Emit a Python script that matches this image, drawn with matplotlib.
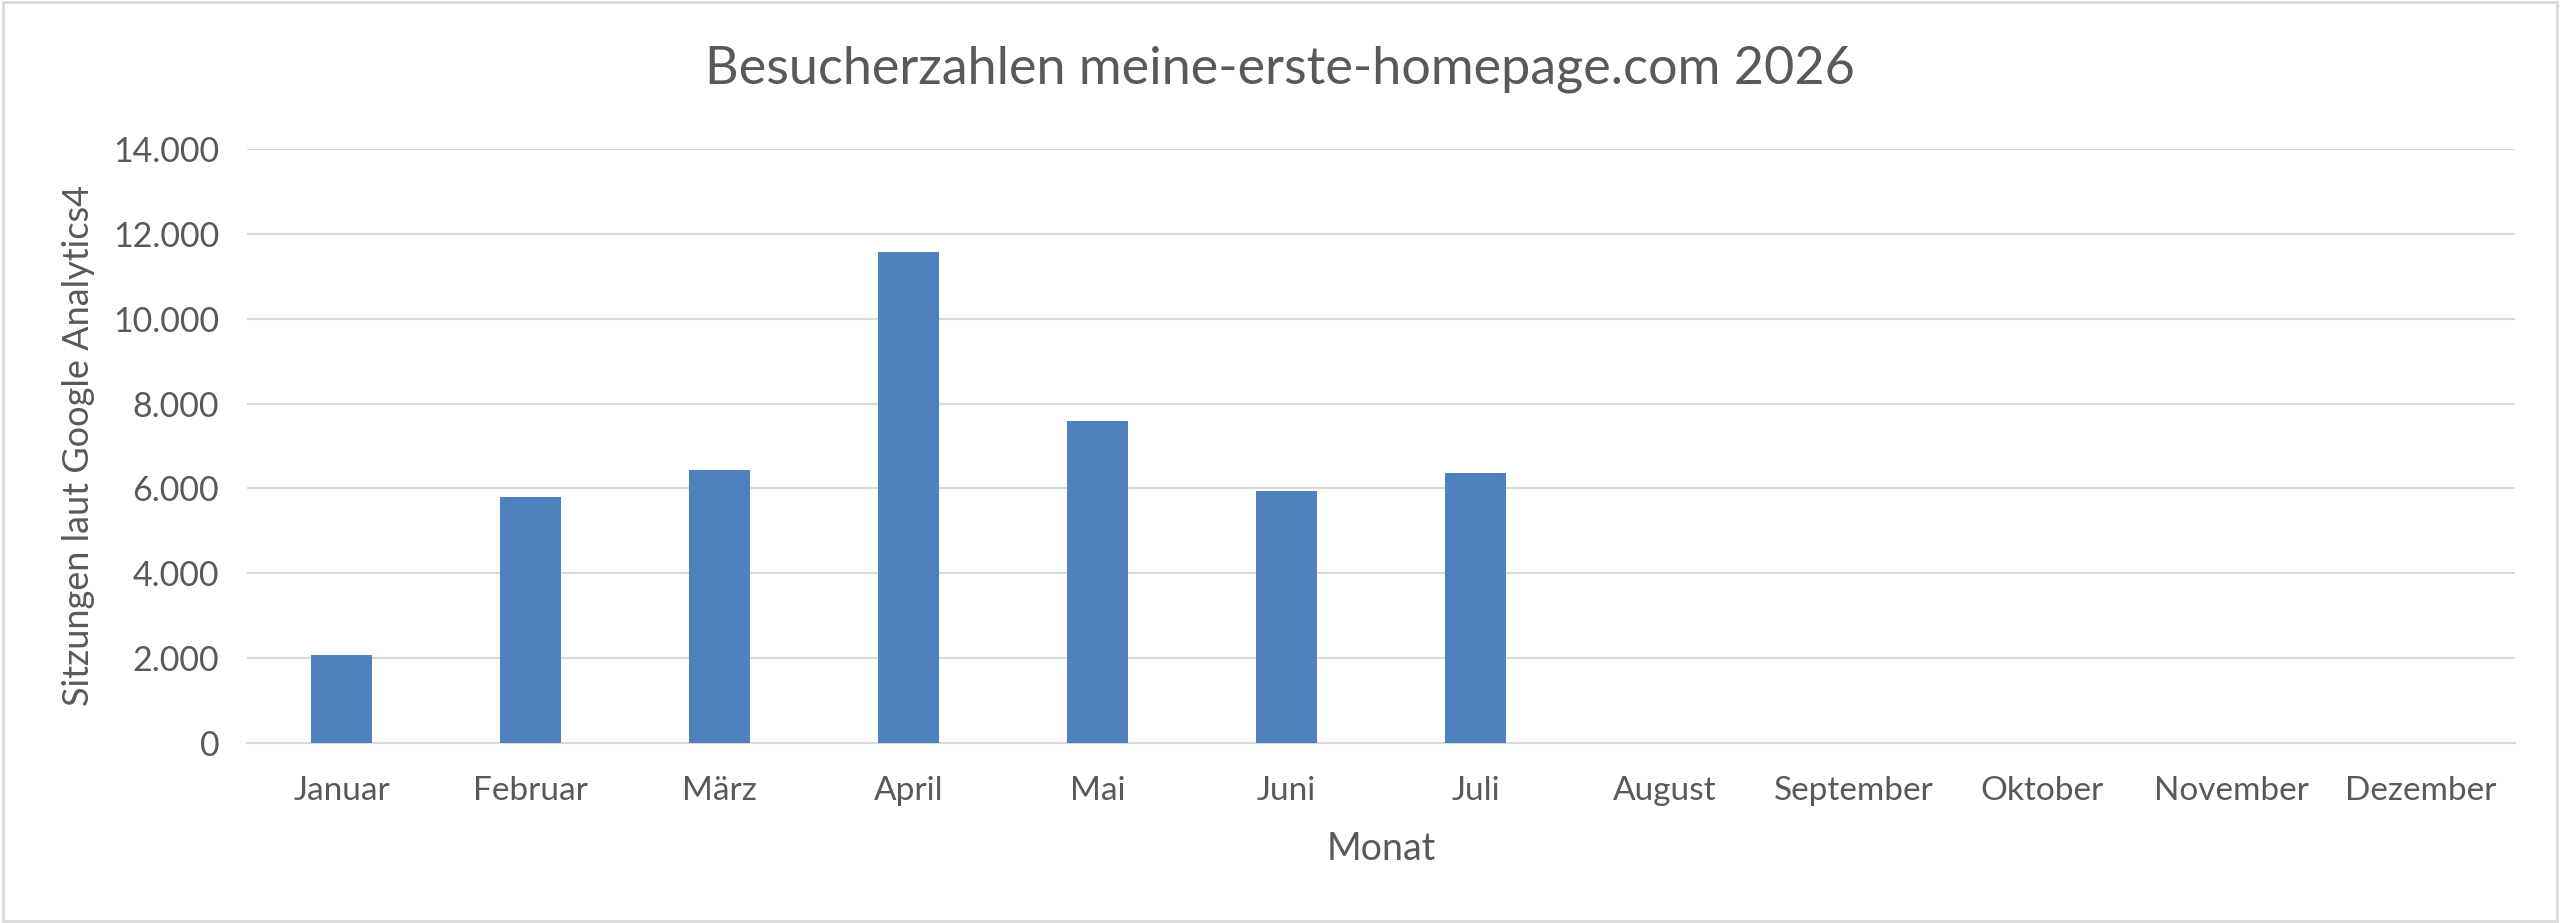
import matplotlib
matplotlib.use("Agg")
import matplotlib.pyplot as plt
from matplotlib.ticker import FuncFormatter
from matplotlib.patches import Rectangle

monate = ["Januar", "Februar", "März", "April", "Mai", "Juni", "Juli",
          "August", "September", "Oktober", "November", "Dezember"]
sitzungen = [2080, 5800, 6430, 11580, 7600, 5940, 6360, 0, 0, 0, 0, 0]
y_ticks = [0, 2000, 4000, 6000, 8000, 10000, 12000, 14000]

text_col = "#595959"
plt.rcParams["font.family"] = ["Lato", "DejaVu Sans"]

fig = plt.figure(figsize=(25.6, 9.23), dpi=100)
# Rahmen um das Diagramm
fig.patches.append(Rectangle((0.001, 0.002), 0.998, 0.996, transform=fig.transFigure,
                             fill=False, edgecolor="#D9D9D9", linewidth=2))

ax = fig.add_axes([247 / 2560, 1 - 743 / 923, (2515 - 247) / 2560, (743 - 149) / 923])

x = range(len(monate))
ax.bar(x, sitzungen, width=0.32, color="#4F81BD", zorder=3)

ax.set_xlim(-0.5, len(monate) - 0.5)
ax.set_ylim(0, 14000)
ax.set_yticks(y_ticks)
ax.yaxis.set_major_formatter(FuncFormatter(lambda v, p: f"{int(v):,}".replace(",", ".")))
ax.set_xticks(list(x))
ax.set_xticklabels(monate)

ax.grid(axis="y", color="#D9D9D9", linewidth=1.5, zorder=0)
for s in ["top", "right", "left"]:
    ax.spines[s].set_visible(False)
ax.spines["bottom"].set_color("#D9D9D9")
ax.spines["bottom"].set_linewidth(1.5)
ax.tick_params(axis="both", length=0, labelcolor=text_col)
ax.tick_params(axis="x", pad=24, labelsize=24)
ax.tick_params(axis="y", pad=20, labelsize=24.5)

ax.set_xlabel("Monat", fontsize=27, color=text_col, labelpad=18)
ax.set_ylabel("Sitzungen laut Google Analytics4", fontsize=26, color=text_col, labelpad=13)
fig.text(0.5, 1 - 69 / 923, "Besucherzahlen meine-erste-homepage.com 2026",
         ha="center", va="center", fontsize=37.5, color=text_col)

fig.savefig("out.png", dpi=100)
